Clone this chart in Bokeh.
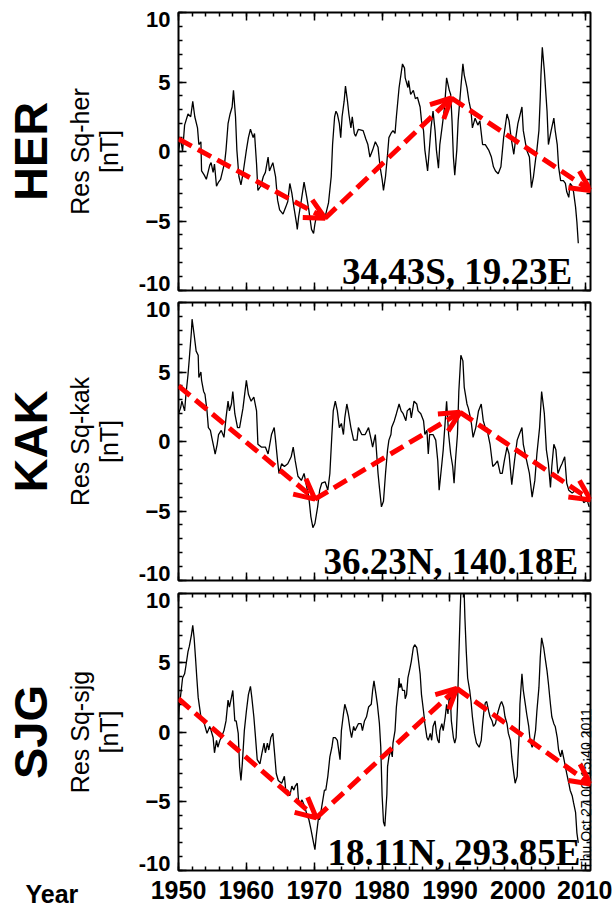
import math
from bokeh.plotting import figure
from bokeh.layouts import row, column
from bokeh.models import (Range1d, LinearAxis, SingleIntervalTicker, FixedTicker,
                          Arrow, OpenHead, Label)
from bokeh.core.properties import value
from bokeh.embed import file_html
from bokeh.resources import INLINE

# ---------------- data ----------------
stations = ["HER", "KAK", "SJG"]
ylabels = ["Res Sq-her", "Res Sq-kak", "Res Sq-sjg"]
coords = ["34.43S, 19.23E", "36.23N, 140.18E", "18.11N, 293.85E"]
stamp = "Thu Oct 27 00:15:40 2011"

her_year = [1950.0, 1950.3, 1950.6, 1950.9, 1951.4, 1951.8, 1952.1, 1952.4, 1952.8, 1953.0,
            1953.3, 1953.4, 1953.8, 1954.1, 1954.6, 1954.8, 1955.1, 1955.3, 1955.6, 1955.9,
            1956.2, 1956.5, 1956.8, 1957.0, 1957.3, 1957.6, 1957.9, 1958.1, 1958.4, 1958.6,
            1958.9, 1959.2, 1959.5, 1960.0, 1960.3, 1960.6, 1961.0, 1961.2, 1961.5, 1961.7,
            1962.1, 1962.5, 1962.8, 1963.2, 1963.4, 1963.9, 1964.3, 1964.6, 1964.9, 1965.4,
            1965.8, 1966.1, 1966.4, 1966.7, 1967.0, 1967.4, 1967.5, 1967.7, 1968.1, 1968.5,
            1968.9, 1969.2, 1969.6, 1969.9, 1970.1, 1970.5, 1970.8, 1971.6, 1972.1, 1972.5,
            1972.7, 1973.0, 1973.2, 1973.4, 1973.7, 1973.9, 1974.1, 1974.4, 1974.6, 1974.9,
            1975.1, 1975.4, 1975.6, 1975.9, 1976.1, 1976.5, 1977.2, 1977.6, 1977.9, 1978.2,
            1978.6, 1979.0, 1979.4, 1979.7, 1980.0, 1980.2, 1980.5, 1980.8, 1981.0, 1981.3,
            1981.6, 1981.9, 1982.1, 1982.5, 1983.0, 1983.3, 1983.4, 1983.8, 1983.9, 1984.2,
            1984.6, 1984.9, 1985.2, 1985.6, 1985.8, 1986.1, 1986.3, 1986.7, 1986.9, 1987.2,
            1987.5, 1987.8, 1988.0, 1988.3, 1988.5, 1988.9, 1989.2, 1989.5, 1989.9, 1990.1,
            1990.3, 1990.5, 1990.7, 1991.0, 1991.2, 1991.6, 1991.9, 1992.1, 1992.5, 1992.8,
            1993.1, 1993.3, 1993.7, 1994.1, 1994.4, 1994.8, 1995.2, 1995.7, 1996.1, 1996.4,
            1996.7, 1997.1, 1997.5, 1997.9, 1998.4, 1998.7, 1999.0, 1999.4, 1999.7, 2000.0,
            2000.6, 2000.8, 2001.3, 2001.7, 2002.0, 2002.3, 2002.6, 2002.8, 2003.1, 2003.3,
            2003.4, 2003.6, 2003.9, 2004.3, 2004.5, 2004.9, 2005.3, 2005.5, 2005.8, 2006.0,
            2006.3, 2006.7, 2007.0, 2007.2, 2007.5, 2007.7, 2008.0, 2008.2, 2008.5, 2008.7,
            2008.9]
her_res = [0.0, 1.0, 0.0, 1.9, 2.7, 2.5, 3.6, 2.5, 1.7, 0.5,
           0.7, -1.4, -1.7, -2.0, -1.0, -0.8, -1.5, -0.9, -2.5, -2.2,
           -2.0, -1.4, -0.8, 0.1, 2.0, 2.7, 3.2, 4.4, 2.5, 0.1,
           -1.8, -2.4, -1.6, 0.1, 1.0, 1.6, 1.0, 1.3, -0.9, -2.8,
           -2.5, -1.8, -1.5, -0.4, -1.4, -0.8, -1.8, -3.5, -4.2, -4.5,
           -4.0, -3.6, -2.3, -3.0, -4.0, -5.2, -5.6, -4.7, -3.5, -2.2,
           -3.3, -4.2, -5.6, -5.9, -5.2, -4.2, -4.5, -4.7, -3.7, -1.8,
           0.5, 2.5, 2.9, 2.7, 2.0, 1.0, 2.5, 3.6, 4.7, 3.6,
           2.7, 1.7, 2.5, 1.3, 1.1, 1.6, 1.5, 0.9, 0.5, -0.4,
           0.1, 0.7, 0.3, -1.1, -2.0, -2.8, -1.8, -0.2, 1.0, 1.3,
           1.5, 1.3, 2.5, 4.6, 6.3, 6.0, 5.3, 4.6, 5.1, 4.1,
           4.4, 3.8, 3.9, 3.2, 2.2, 1.5, 0.1, -1.4, -0.2, 1.7,
           2.9, 1.5, 0.1, -1.2, 0.5, 2.0, 3.2, 5.3, 4.4, 4.1,
           2.2, -0.4, -1.7, 0.1, 2.2, 4.6, 6.3, 5.5, 4.6, 3.6,
           2.9, 1.7, 2.4, 1.9, 2.2, 0.5, 0.5, 0.1, -0.4, -1.1,
           -1.4, -1.6, -1.1, 1.0, 2.7, 2.2, 1.0, -0.2, 1.0, 2.0,
           3.2, 1.5, 0.1, -0.4, -2.6, -1.8, -0.6, 0.1, 1.5, 3.9,
           5.5, 7.5, 5.8, 2.9, 0.5, 1.5, 2.4, 1.5, 0.5, -1.1,
           -2.1, -2.1, -2.3, -2.9, -3.3, -2.3, -2.5, -2.9, -4.0, -5.1,
           -6.6]

kak_year = [1950.0, 1950.3, 1950.5, 1950.9, 1951.1, 1951.4, 1951.6, 1951.9, 1952.0, 1952.3,
            1952.6, 1952.9, 1953.0, 1953.3, 1953.4, 1953.7, 1953.9, 1954.2, 1954.4, 1954.7,
            1954.9, 1955.2, 1955.4, 1955.7, 1955.9, 1956.3, 1956.7, 1957.0, 1957.3, 1957.5,
            1957.8, 1958.0, 1958.3, 1958.7, 1959.0, 1959.5, 1960.0, 1960.3, 1960.7, 1961.1,
            1961.5, 1961.7, 1962.2, 1962.8, 1963.2, 1963.7, 1964.1, 1964.3, 1964.6, 1964.8,
            1965.2, 1965.6, 1966.1, 1966.6, 1966.9, 1967.2, 1967.6, 1968.1, 1968.5, 1968.9,
            1969.2, 1969.5, 1969.8, 1970.1, 1970.5, 1970.8, 1971.1, 1971.6, 1972.0, 1972.3,
            1972.6, 1972.8, 1973.1, 1973.4, 1973.7, 1974.0, 1974.3, 1974.5, 1974.8, 1975.0,
            1975.4, 1975.8, 1976.3, 1976.5, 1977.0, 1977.5, 1978.0, 1978.4, 1978.6, 1979.0,
            1979.4, 1979.6, 1979.9, 1980.2, 1980.5, 1980.8, 1981.0, 1981.3, 1981.4, 1981.8,
            1982.1, 1982.5, 1982.8, 1983.1, 1983.5, 1983.7, 1984.1, 1984.3, 1984.7, 1985.1,
            1985.3, 1985.7, 1986.1, 1986.3, 1986.6, 1986.8, 1987.0, 1987.5, 1987.9, 1988.2,
            1988.4, 1988.8, 1989.0, 1989.4, 1989.5, 1989.8, 1990.1, 1990.4, 1990.6, 1990.8,
            1991.1, 1991.3, 1991.6, 1991.9, 1992.1, 1992.5, 1992.7, 1993.1, 1993.4, 1993.8,
            1994.2, 1994.6, 1994.9, 1995.2, 1995.4, 1995.9, 1996.3, 1996.7, 1997.0, 1997.4,
            1997.7, 1998.0, 1998.4, 1998.7, 1999.1, 1999.5, 1999.9, 2000.2, 2000.6, 2000.8,
            2001.3, 2001.7, 2002.1, 2002.5, 2002.8, 2003.2, 2003.5, 2003.9, 2004.2, 2004.5,
            2004.8, 2005.0, 2005.3, 2005.6, 2005.9, 2006.3, 2006.5, 2006.9, 2007.2, 2007.5,
            2008.0, 2008.5, 2009.2, 2009.7, 2010.2, 2010.5]
kak_res = [2.0, 2.4, 2.9, 2.2, 3.4, 4.8, 6.0, 7.9, 8.8, 7.7,
           6.5, 6.2, 4.6, 5.0, 4.4, 3.6, 3.4, 2.2, 1.0, 0.8,
           0.3, -0.4, -0.9, -0.2, 0.5, 0.8, 0.3, 1.7, 2.9, 2.2,
           2.7, 3.6, 2.0, 1.0, 1.0, 2.4, 4.4, 3.4, 2.9, 3.2,
           2.2, -0.2, -0.4, -0.4, -0.9, 0.5, 1.0, 0.1, -1.4, -2.3,
           -1.6, -1.8, -1.6, -1.1, -0.4, -1.4, -2.5, -2.8, -2.3, -3.3,
           -4.0, -5.4, -6.2, -5.9, -4.7, -3.5, -3.0, -2.9, -3.5, -2.3,
           0.5, 2.2, 2.9, 2.2, 1.0, 1.3, 0.5, 1.7, 2.7, 2.2,
           1.0, 0.1, 0.1, 1.0, 0.5, 0.5, 1.0, 0.1, -0.4, 0.5,
           -2.3, -3.3, -4.7, -4.3, -2.3, -0.6, 0.1, 0.5, 1.0, 1.5,
           2.0, 2.7, 2.2, 2.0, 1.5, 2.2, 2.4, 1.7, 2.9, 2.7,
           2.2, 2.0, 1.5, 0.5, 0.8, -0.9, 0.5, 0.5, 0.1, -1.4,
           -3.5, -1.6, -0.6, 2.2, 2.9, 0.5, -0.9, -1.8, -3.0, -1.4,
           0.5, 3.6, 6.2, 5.8, 3.9, 2.7, 2.4, 1.5, 0.3, 1.0,
           2.2, 2.7, 1.5, 1.0, 1.0, -0.2, -1.8, -1.6, -1.4, -2.3,
           -2.3, -1.4, -0.4, -0.9, -3.1, -1.4, 0.1, 0.5, 1.0, -0.2,
           -1.4, -2.3, -4.0, -2.8, -0.9, 1.0, 3.6, 2.0, -0.6, -1.6,
           -3.3, -1.8, -0.2, -0.6, -2.3, -1.8, -1.6, -1.1, -3.0, -3.5,
           -3.7, -3.5, -3.7, -4.4, -4.2, -4.7]

sjg_year = [1950.0, 1950.1, 1950.4, 1950.6, 1950.9, 1951.1, 1951.4, 1951.6, 1951.9, 1952.1,
            1952.3, 1952.5, 1952.7, 1952.9, 1953.1, 1953.3, 1953.8, 1954.2, 1954.6, 1954.8,
            1955.1, 1955.3, 1955.6, 1955.8, 1956.1, 1956.3, 1956.7, 1957.0, 1957.3, 1957.5,
            1957.8, 1958.0, 1958.3, 1958.5, 1958.8, 1959.0, 1959.2, 1959.4, 1959.7, 1960.0,
            1960.3, 1960.6, 1960.8, 1961.1, 1961.3, 1961.6, 1962.0, 1962.3, 1962.6, 1962.8,
            1963.1, 1963.3, 1963.6, 1963.9, 1964.2, 1964.4, 1964.7, 1965.2, 1965.6, 1965.8,
            1966.1, 1966.4, 1966.7, 1967.0, 1967.2, 1967.5, 1967.7, 1968.0, 1968.2, 1968.6,
            1969.0, 1969.2, 1969.5, 1969.9, 1970.1, 1970.3, 1970.6, 1970.8, 1971.1, 1971.5,
            1971.7, 1972.0, 1972.3, 1972.6, 1972.8, 1973.1, 1973.4, 1973.8, 1974.0, 1974.3,
            1974.5, 1974.8, 1975.0, 1975.3, 1975.5, 1975.8, 1976.0, 1976.5, 1976.9, 1977.1,
            1977.4, 1977.7, 1978.0, 1978.4, 1978.6, 1978.8, 1979.1, 1979.3, 1979.6, 1979.8,
            1980.0, 1980.2, 1980.4, 1980.7, 1980.8, 1981.0, 1981.3, 1981.5, 1981.6, 1981.9,
            1982.1, 1982.4, 1982.5, 1982.6, 1982.8, 1983.0, 1983.3, 1983.4, 1983.6, 1983.8,
            1984.1, 1984.3, 1984.6, 1984.8, 1985.1, 1985.3, 1985.6, 1985.8, 1986.1, 1986.3,
            1986.6, 1986.8, 1987.1, 1987.3, 1987.5, 1987.8, 1988.0, 1988.2, 1988.4, 1988.5,
            1988.8, 1989.0, 1989.3, 1989.5, 1989.7, 1989.9, 1990.0, 1990.2, 1990.5, 1990.7,
            1990.9, 1991.1, 1991.3, 1991.5, 1991.7, 1992.0, 1992.2, 1992.4, 1992.6, 1992.9,
            1993.1, 1993.3, 1993.6, 1993.9, 1994.3, 1994.6, 1994.8, 1995.0, 1995.2, 1995.4,
            1995.7, 1995.9, 1996.2, 1996.4, 1996.7, 1996.9, 1997.1, 1997.4, 1997.6, 1997.9,
            1998.1, 1998.4, 1998.6, 1998.9, 1999.1, 1999.4, 1999.6, 1999.9, 2000.0, 2000.2,
            2000.3, 2000.6, 2000.8, 2001.1, 2001.3, 2001.6, 2001.8, 2002.1, 2002.3, 2002.6,
            2002.8, 2003.1, 2003.3, 2003.5, 2003.8, 2004.0, 2004.3, 2004.5, 2004.8, 2005.0,
            2005.3, 2005.5, 2005.8, 2006.0, 2006.3, 2006.5, 2006.8, 2007.0, 2007.2, 2007.5,
            2007.7, 2008.0, 2008.2, 2008.5, 2008.7, 2008.9]
sjg_res = [0.8, 1.8, 3.0, 3.9, 4.2, 4.8, 5.8, 6.2, 7.0, 7.7,
           6.8, 5.4, 3.9, 2.5, 1.8, 1.1, 0.6, -0.1, 0.4, 0.1,
           -0.4, -1.5, -0.6, -1.1, -0.6, -0.4, 0.1, 0.8, 2.3, 1.8,
           2.5, 3.0, 0.8, 0.8, -0.1, -2.5, -3.5, -2.3, 0.1, 1.5,
           2.7, 3.3, 2.5, 1.1, -0.1, -2.0, -2.3, -1.5, -0.8, -1.5,
           -0.8, -1.3, -0.4, -0.1, -1.8, -3.0, -3.5, -3.7, -3.2, -4.2,
           -4.2, -4.6, -3.9, -4.2, -3.9, -3.7, -5.1, -5.1, -4.9, -5.4,
           -6.1, -6.3, -7.0, -8.0, -8.5, -7.5, -6.3, -6.3, -5.4, -4.2,
           -4.2, -3.2, -1.8, -1.1, -0.4, -0.4, -0.6, -2.0, 0.1, 1.3,
           2.0, 1.5, 1.1, 0.1, -0.4, 0.4, 0.1, 0.6, 0.6, 0.1,
           0.8, 1.1, 1.8, 2.0, 3.0, 3.7, 2.7, 2.0, 0.6, -1.1,
           -4.6, -6.5, -6.8, -4.5, -2.5, -1.8, -1.3, -1.8, -0.8, 0.1,
           1.8, 3.2, 3.9, 3.2, 3.5, 3.0, 3.0, 2.4, 2.7, 3.9,
           4.6, 5.1, 6.1, 6.3, 6.1, 5.4, 4.2, 2.7, 1.5, 0.6,
           -0.4, -0.6, -0.1, -0.6, 0.4, 0.8, -0.1, -0.6, -0.8, 0.1,
           0.6, 0.1, 1.1, 2.0, 1.3, 2.7, 3.0, 0.8, -0.4, -0.8,
           -0.4, 1.8, 5.4, 8.7, 11.5, 11.5, 8.2, 5.8, 3.9, 3.0,
           2.2, 1.1, -0.1, -0.8, -1.1, -0.6, 0.6, 1.5, 2.1, 2.2,
           1.5, 1.1, 0.8, 0.4, 0.6, 1.1, 1.5, 2.0, 2.2, 1.8,
           1.1, 0.6, -0.1, -0.6, -1.8, -3.0, -3.7, -3.2, -2.0, -0.1,
           2.0, 4.2, 3.0, 2.0, 1.3, 0.4, -0.6, -1.1, -0.8, 0.1,
           1.5, 3.2, 5.4, 6.8, 6.1, 5.4, 4.4, 3.5, 2.0, 1.1,
           0.6, 0.4, -0.4, -1.3, -1.8, -1.3, -2.0, -2.5, -3.0, -3.7,
           -4.2, -4.6, -5.1, -5.8, -7.3, -8.0]

# red trend arrows: vertices (year, nT) of each station's dashed path
her_trend_x = [1950.0, 1971.6, 1990.2, 2010.7]
her_trend_y = [0.9, -4.8, 3.85, -2.8]
kak_trend_x = [1950.0, 1970.1, 1991.5, 2010.7]
kak_trend_y = [4.0, -4.15, 2.1, -4.2]
sjg_trend_x = [1950.0, 1970.3, 1991.0, 2010.7]
sjg_trend_y = [2.4, -6.2, 3.15, -3.75]

# y tick labels (IDL nudges the end labels inward)
ytick_label_pos = [-9.5, -5, 0, 5, 9.5]
ytick_label_txt = {-9.5: "-10", 9.5: "10"}
# where the vertical date stamp starts along the right edge of the last panel
stamp_pos = -9.95

for a, b in [(her_year, her_res), (kak_year, kak_res), (sjg_year, sjg_res)]:
    assert len(a) == len(b), (len(a), len(b))

# ---------------- layout ----------------
X_START, X_END = 1950, 2010.7
LEFT_W = 128
PANEL_W = 484
BORDER_L = 50
BORDER_R = PANEL_W - BORDER_L - 412
HEIGHTS = [296, 290, 322]
TOPS = [12, 6, 7]
BOTTOMS = [6, 6, 38]
TOTAL_H = sum(HEIGHTS)
FONT = "Liberation Sans"


def style_axis(ax, show, size="23px"):
    ax.axis_line_color = None
    ax.major_tick_in = 8
    ax.major_tick_out = 0
    ax.minor_tick_in = 4
    ax.minor_tick_out = 0
    ax.major_tick_line_color = "black"
    ax.minor_tick_line_color = "black"
    ax.major_tick_line_width = 1.5
    ax.minor_tick_line_width = 1.5
    if show:
        ax.major_label_text_font = FONT
        ax.major_label_text_font_style = "bold"
        ax.major_label_text_font_size = size
        ax.major_label_text_color = "black"
    else:
        ax.major_label_text_color = None
        ax.major_label_text_font_size = "1px"
        ax.major_label_standoff = 0


def bare_axis(ticker, overrides):
    a = LinearAxis(ticker=ticker, major_label_overrides=overrides)
    a.axis_line_color = None
    a.major_tick_line_color = None
    a.minor_tick_line_color = None
    a.major_tick_out = 0
    a.major_tick_in = 0
    a.minor_tick_out = 0
    a.minor_tick_in = 0
    return a


def make_panel(i, years, vals, tx, ty, coord_x, coord_y, show_x):
    p = figure(width=PANEL_W, height=HEIGHTS[i],
               x_range=Range1d(X_START, X_END), y_range=Range1d(-10, 10),
               output_backend="svg", toolbar_location=None,
               min_border_left=BORDER_L, min_border_right=BORDER_R,
               min_border_top=TOPS[i], min_border_bottom=BOTTOMS[i])
    p.outline_line_color = "black"
    p.outline_line_width = 2
    p.grid.visible = False
    p.background_fill_color = "white"
    p.border_fill_color = "white"

    xt = SingleIntervalTicker(interval=10, num_minor_ticks=5)
    yt = SingleIntervalTicker(interval=5, num_minor_ticks=5)
    xa = p.xaxis[0]
    ya = p.yaxis[0]
    xa.ticker = xt
    ya.ticker = yt
    style_axis(xa, show_x, "25px")
    if show_x:
        xa.major_label_standoff = 10
    style_axis(ya, False)

    # labels for the y ticks (separate axis, no tick marks)
    yl = bare_axis(FixedTicker(ticks=ytick_label_pos), ytick_label_txt)
    yl.major_label_standoff = 8
    yl.major_label_text_font = FONT
    yl.major_label_text_font_style = "bold"
    yl.major_label_text_font_size = "22px"
    yl.major_label_text_color = "black"
    p.add_layout(yl, "left")

    top_ax = LinearAxis(ticker=xt)
    style_axis(top_ax, False)
    p.add_layout(top_ax, "above")
    right_ax = LinearAxis(ticker=yt)
    style_axis(right_ax, False)
    p.add_layout(right_ax, "right")

    p.line(years, vals, line_color="black", line_width=1.3)

    for k in range(len(tx) - 1):
        p.add_layout(Arrow(x_start=tx[k], y_start=ty[k], x_end=tx[k + 1], y_end=ty[k + 1],
                           line_color="#ff0000", line_width=5, line_dash="15 7",
                           end=OpenHead(size=20, line_color="#ff0000", line_width=5)))

    p.add_layout(Label(x=coord_x, y=coord_y, text=coords[i],
                       text_font="Liberation Serif", text_font_style="bold",
                       text_font_size="37px", text_color="black",
                       text_align="right", text_baseline="middle"))
    return p


p1 = make_panel(0, her_year, her_res, her_trend_x, her_trend_y, 2008.0, -8.6, False)
p2 = make_panel(1, kak_year, kak_res, kak_trend_x, kak_trend_y, 2008.9, -8.6, False)
p3 = make_panel(2, sjg_year, sjg_res, sjg_trend_x, sjg_trend_y, 2009.2, -8.7, True)

# date stamp printed vertically (reading upward) just outside the last panel
sa = bare_axis(FixedTicker(ticks=[stamp_pos]), {stamp_pos: stamp})
sa.major_label_orientation = math.pi / 2
sa.major_label_standoff = -4
sa.major_label_text_font = FONT
sa.major_label_text_font_style = "normal"
sa.major_label_text_font_size = "14px"
sa.major_label_text_color = "black"
p3.add_layout(sa, "right")

# left column with station names and axis titles (coordinates = page pixels)
lf = figure(width=LEFT_W, height=TOTAL_H, x_range=Range1d(0, LEFT_W), y_range=Range1d(0, TOTAL_H),
            output_backend="svg", toolbar_location=None, min_border=0,
            x_axis_location=None, y_axis_location=None, outline_line_color=None)
lf.grid.visible = False
centers = [TOTAL_H - 151, TOTAL_H - 441, TOTAL_H - 731.5]
lf.text(x=[29.5] * 3, y=centers, text=stations, angle=math.pi / 2,
        text_font=value(FONT), text_font_style="bold", text_font_size="47px",
        text_color="black", text_align="center", text_baseline="middle")
lf.text(x=[79.5] * 3, y=centers, text=ylabels, angle=math.pi / 2,
        text_font=value(FONT), text_font_style="normal", text_font_size="25px",
        text_color="black", text_align="center", text_baseline="middle")
lf.text(x=[108.5] * 3, y=centers, text=["[nT]"] * 3, angle=math.pi / 2,
        text_font=value(FONT), text_font_style="normal", text_font_size="25px",
        text_color="black", text_align="center", text_baseline="middle")
lf.text(x=[25], y=[15], text=["Year"], angle=0,
        text_font=value(FONT), text_font_style="bold", text_font_size="25px",
        text_color="black", text_align="left", text_baseline="middle")

layout = row(lf, column(p1, p2, p3))
open("out.html", "w").write(file_html(layout, INLINE))
